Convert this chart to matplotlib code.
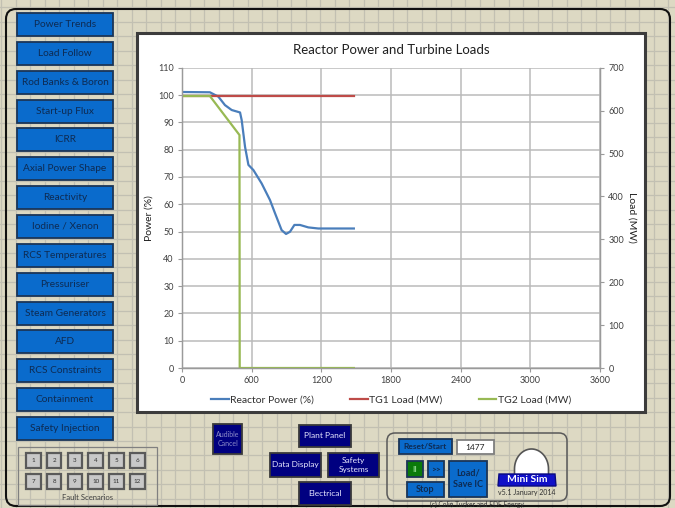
import numpy as np
import matplotlib
matplotlib.use("Agg")
import matplotlib.pyplot as plt
from matplotlib import patches

plt.rcParams['font.family'] = ['Lato', 'DejaVu Sans']

# --- chart data ---
time_s = [0, 240, 313, 370, 428, 500, 514, 543, 572, 615, 686, 758, 801, 858, 896, 930, 968, 1016, 1088, 1174, 1480]
reactor_pct = [101.1, 101.0, 99.4, 96.3, 94.5, 93.6, 90.8, 81.0, 74.4, 72.5, 67.6, 61.5, 56.7, 50.5, 49.1, 49.9, 52.4, 52.4, 51.5, 51.1, 51.1]
tg1_time = [0, 1480]
tg1_mw = [634, 634]
tg2_time = [0, 240, 495, 497, 1480]
tg2_mw = [634, 634, 543, 0, 0]

x_ticks = [0, 600, 1200, 1800, 2400, 3000, 3600]
left_ticks = list(range(0, 111, 10))
right_ticks = list(range(0, 701, 100))

# --- panel labels ---
menu_labels = ["Power Trends", "Load Follow", "Rod Banks & Boron", "Start-up Flux", "ICRR",
               "Axial Power Shape", "Reactivity", "Iodine / Xenon", "RCS Temperatures",
               "Pressuriser", "Steam Generators", "AFD", "RCS Constraints", "Containment",
               "Safety Injection"]
fault_numbers = list(range(1, 13))

W, H = 675, 508
fig = plt.figure(figsize=(W / 100, H / 100), dpi=100)
fig.patch.set_facecolor('#ddd9c3')

# background "spreadsheet" layer in pixel coordinates
bg = fig.add_axes([0, 0, 1, 1])
bg.set_xlim(0, W)
bg.set_ylim(H, 0)
bg.axis('off')
for gx in np.arange(1, W, 14.5):
    bg.axvline(gx, color='#c2c0b2', lw=0.9, zorder=0)
for gy in np.arange(7.2, H, 14.46):
    bg.axhline(gy, color='#c2c0b2', lw=0.9, zorder=0)

# outer frame
bg.add_patch(patches.FancyBboxPatch((6, 9), 664, 497, boxstyle="round,pad=0,rounding_size=10",
                                    fc='none', ec='#111111', lw=1.5, zorder=1))


def button(x0, y0, x1, y1, text, fc, ec, tc, fs=7, lw=1.3, weight='normal'):
    bg.add_patch(patches.Rectangle((x0, y0), x1 - x0, y1 - y0, fc=fc, ec=ec, lw=lw, zorder=2))
    bg.text((x0 + x1) / 2, (y0 + y1) / 2, text, ha='center', va='center', color=tc,
            fontsize=fs, zorder=3, linespacing=1.3, fontweight=weight)


# left menu buttons
for i, lab in enumerate(menu_labels):
    top = 13 + 28.85 * i
    button(17, top, 113, top + 23, lab, '#0a6bcc', '#1b3557', '#0e2b52', fs=7.3)

# fault scenarios
bg.add_patch(patches.Rectangle((18, 447), 139, 58, fc='none', ec='#808080', lw=0.9, zorder=2))
for k, n in enumerate(fault_numbers):
    col, row = k % 6, k // 6
    x0 = 26 + 20.8 * col
    y0 = 453 + 21 * row
    button(x0, y0, x0 + 14.5, y0 + 14.5, str(n), '#c8c8c8', '#5a5a5a', '#303030', fs=4.5, lw=1.6)
bg.text(88, 497, "Fault Scenarios", ha='center', va='center', fontsize=5.5, color='#404040', zorder=3)

# navy navigation buttons
navy = '#000080'
button(213, 424, 242, 454, "Audible\nCancel", navy, '#3a3a3a', '#8c8cc8', fs=5)
button(299, 425, 351, 447, "Plant Panel", navy, '#3a3a3a', '#e8e8ff', fs=6)
button(270, 453, 321, 477, "Data Display", navy, '#3a3a3a', '#e8e8ff', fs=6)
button(328, 453, 379, 477, "Safety\nSystems", navy, '#3a3a3a', '#e8e8ff', fs=6)
button(299, 482, 351, 505, "Electrical", navy, '#3a3a3a', '#e8e8ff', fs=6)

# simulator control group
bg.add_patch(patches.FancyBboxPatch((387, 433), 180, 68, boxstyle="round,pad=0,rounding_size=8",
                                    fc='none', ec='#595959', lw=1.1, zorder=2))
button(399, 439, 452, 454, "Reset/Start", '#0a6bcc', '#1b3557', '#0e2b52', fs=6, weight='bold')
button(457, 440, 494, 454, "1477", 'white', '#7f7f7f', '#202020', fs=6)
button(407, 461, 423, 477, "II", '#0a7a0a', '#1b3557', '#7fd07f', fs=6, weight='bold')
button(428, 461, 444, 477, ">>", '#0a6bcc', '#1b3557', '#0e2b52', fs=6, weight='bold')
button(407, 482, 444, 497, "Stop", '#0a6bcc', '#1b3557', '#0e2b52', fs=6.5, weight='bold')
button(449, 461, 487, 497, "Load/\nSave IC", '#0a6bcc', '#1b3557', '#0e2b52', fs=6.5, weight='bold')

# MiniSim logo: rounded dome sitting on a blue band
th = np.linspace(0, np.pi, 80)
arc = np.column_stack([531.5 + 17 * np.cos(th), 469 - 20 * np.sin(th)])
dome = np.vstack([[[548.5, 475]], arc, [[514.5, 475]]])
bg.add_patch(patches.Polygon(dome, closed=True, fc='white', ec='#555555', lw=1.2, zorder=2))
bg.add_patch(patches.Polygon([(499, 474), (555, 474), (556, 486), (498, 486)], closed=True,
                             fc='#1010c8', ec='#0a0a80', lw=1, zorder=3))
bg.text(527, 480, "Mini Sim", ha='center', va='center', color='white', fontsize=7.5,
        fontweight='bold', zorder=4)
bg.text(527, 493, "v5.1 January 2014", ha='center', va='center', color='#303030', fontsize=5, zorder=3)
bg.text(477, 504.5, "(c) Colin Tucker and EDF Energy", ha='center', va='center', color='#303030',
        fontsize=4.8, zorder=3)

# white chart panel
bg.add_patch(patches.Rectangle((137, 33), 508, 379, fc='white', ec='#3c3c3c', lw=2.2, zorder=2))
bg.text(391, 50, "Reactor Power and Turbine Loads", ha='center', va='center', fontsize=9.5,
        color='#202020', zorder=3)

# --- the chart ---
ax = fig.add_axes([182 / W, 1 - 368 / H, 418 / W, 300.3 / H])
ax.patch.set_alpha(0)
ax2 = ax.twinx()

ax.set_xlim(0, 3600)
ax.set_ylim(0, 110)
ax2.set_ylim(0, 700)
ax.set_xticks(x_ticks)
ax.set_yticks(left_ticks)
ax2.set_yticks(right_ticks)
ax.grid(True, color='#bababa', lw=1.1)
ax.set_axisbelow(True)

for a in (ax, ax2):
    for s in a.spines.values():
        s.set_color('#9a9a9a')
        s.set_linewidth(0.9)
    a.spines['top'].set_visible(False)
    a.tick_params(labelsize=6.5, colors='#9a9a9a', labelcolor='#404040', length=3, width=0.8, pad=3)

l1, = ax.plot(time_s, reactor_pct, color='#4a7ebb', lw=1.6, label='Reactor Power (%)')
l2, = ax2.plot(tg1_time, tg1_mw, color='#be4b48', lw=1.6, label='TG1 Load (MW)')
l3, = ax2.plot(tg2_time, tg2_mw, color='#98b954', lw=1.6, label='TG2 Load (MW)')

ax.set_ylabel("Power (%)", fontsize=7.5, color='#202020', labelpad=3)
ax2.set_ylabel("Load (MW)", fontsize=7.5, color='#202020', rotation=270, labelpad=9)

ax2.legend(handles=[l1, l2, l3], loc='center', bbox_to_anchor=(0.5, -0.107), ncol=3, frameon=False,
           fontsize=7.5, handlelength=1.7, handletextpad=0.1, columnspacing=3.5, labelcolor='#303030')

fig.savefig("out.png", dpi=100)
